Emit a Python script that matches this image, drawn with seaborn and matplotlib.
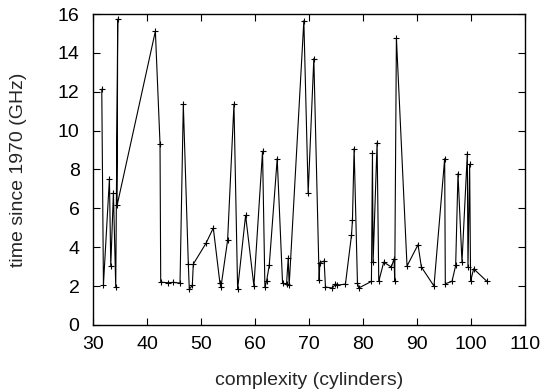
import pandas as pd
import numpy as np
import matplotlib.pyplot as plt
import seaborn as sns

# values, in drawing order
complexity = [31.55, 31.86, 32.97, 33.22, 33.71, 34.14, 34.51, 34.39, 41.49, 42.35,
              42.48, 43.89, 44.82, 46.06, 46.67, 47.60, 47.78, 48.34, 48.52, 50.87,
              52.23, 53.46, 53.65, 54.88, 56.06, 56.74, 58.22, 59.76, 61.36, 61.80,
              62.10, 62.60, 64.08, 65.07, 65.81, 66.12, 66.30, 69.02, 69.82, 70.87,
              71.86, 71.98, 72.78, 73.03, 74.33, 74.88, 75.25, 76.73, 77.85, 78.03,
              78.34, 78.96, 79.20, 81.55, 81.74, 81.86, 82.60, 82.91, 83.83, 85.25,
              85.75, 85.87, 86.18, 88.15, 90.19, 90.81, 93.15, 95.13, 95.25, 96.49,
              97.17, 97.60, 98.34, 99.33, 99.45, 99.76, 99.94, 100.50, 102.97]
time_ghz = [12.13, 2.07, 7.53, 3.03, 6.81, 1.95, 15.74, 6.15, 15.12, 9.33,
            2.20, 2.17, 2.19, 2.15, 11.36, 3.13, 1.84, 2.03, 3.13, 4.20,
            4.99, 2.15, 1.95, 4.35, 11.36, 1.84, 5.64, 2.00, 8.94, 1.95,
            2.24, 3.06, 8.56, 2.15, 2.10, 3.44, 2.03, 15.66, 6.79, 13.71,
            2.29, 3.20, 3.29, 1.95, 1.90, 2.12, 2.05, 2.10, 4.61, 5.38,
            9.08, 2.15, 1.90, 2.24, 8.87, 3.23, 9.38, 2.24, 3.23, 2.98,
            3.41, 2.24, 14.78, 3.03, 4.13, 2.98, 2.00, 8.56, 2.12, 2.24,
            3.06, 7.79, 3.23, 8.82, 2.98, 8.27, 2.24, 2.89, 2.24]

x_ticks = list(range(30, 111, 10))
y_ticks = list(range(0, 17, 2))

df = pd.DataFrame({'complexity': complexity, 'time': time_ghz})

sns.set_style('ticks')
plt.rcParams['font.family'] = ['Liberation Sans', 'DejaVu Sans']

fig = plt.figure(figsize=(5.56, 3.91), dpi=100)
ax = fig.add_axes([0.168, 0.169, 0.776, 0.795])

sns.lineplot(data=df, x='complexity', y='time', sort=False, estimator=None,
             color='black', linewidth=0.8, marker='+', markersize=5,
             markeredgewidth=0.8, markeredgecolor='black', ax=ax)

ax.set_xlim(30, 110)
ax.set_ylim(0, 16)
ax.set_xticks(x_ticks)
ax.set_yticks(y_ticks)
ax.tick_params(direction='in', top=True, right=True, length=5, width=0.8,
               labelsize=14, colors='black')
ax.tick_params(axis='x', pad=8)
ax.tick_params(axis='y', pad=10)
for s in ax.spines.values():
    s.set_visible(True)
    s.set_color('black')
    s.set_linewidth(1.0)

ax.set_xlabel('complexity (cylinders)', fontsize=14, labelpad=14)
ax.set_ylabel('time since 1970 (GHz)', fontsize=14, labelpad=22)

fig.savefig('out.png', dpi=100)
